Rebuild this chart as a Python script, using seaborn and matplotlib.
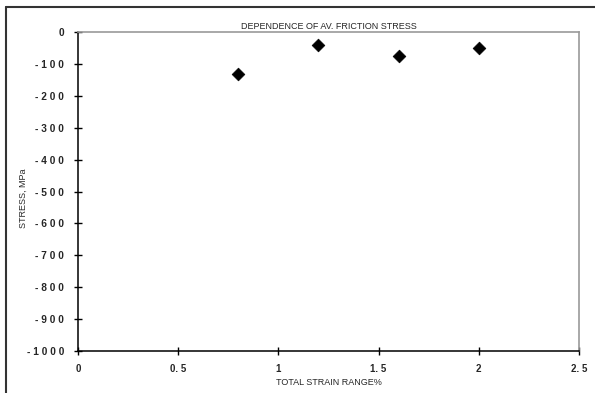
import matplotlib
matplotlib.use("Agg")
import matplotlib.pyplot as plt
import seaborn as sns
import pandas as pd
from matplotlib.lines import Line2D

strain_range = [0.8, 1.2, 1.6, 2.0]
stress = [-133, -40, -75, -49]
xticks = [0, 0.5, 1, 1.5, 2, 2.5]
xtick_labels = ["0", "0. 5", "1", "1. 5", "2", "2. 5"]
yticks = [0, -100, -200, -300, -400, -500, -600, -700, -800, -900, -1000]
ytick_labels = ["0", "- 1 0 0", "- 2 0 0", "- 3 0 0", "- 4 0 0", "- 5 0 0",
                "- 6 0 0", "- 7 0 0", "- 8 0 0", "- 9 0 0", "- 1 0 0 0"]

sns.set_theme(style="white")
plt.rcParams['font.family'] = ['Liberation Sans', 'DejaVu Sans']

df = pd.DataFrame({"x": strain_range, "y": stress})

fig = plt.figure(figsize=(5.95, 3.93), dpi=100)
ax = fig.add_axes([78/595, 1 - 351/393, (579-78)/595, (351-32)/393])
sns.scatterplot(data=df, x="x", y="y", ax=ax, marker="D", s=42,
                color="black", edgecolor="black", linewidth=0.5)

ax.set_xlim(0, 2.5)
ax.set_ylim(-1000, 0)
ax.set_xticks(xticks)
ax.set_xticklabels(xtick_labels, fontsize=7, fontweight="bold")
ax.set_yticks(yticks)
ax.set_yticklabels(ytick_labels, fontsize=7.3, fontweight="bold")
ax.tick_params(axis="both", which="major", bottom=True, left=True, top=False, right=False,
               direction="inout", length=6, width=1, color="black", pad=7)
ax.tick_params(axis="x", pad=6)

for s in ["left", "bottom"]:
    ax.spines[s].set_color("black")
    ax.spines[s].set_linewidth(1.1)
for s in ["top", "right"]:
    ax.spines[s].set_color("#999999")
    ax.spines[s].set_linewidth(1.2)

ax.set_xlabel("TOTAL STRAIN RANGE%", fontsize=6.5, labelpad=3)
ax.set_ylabel("STRESS, MPa", fontsize=6.5, labelpad=0)
ax.yaxis.set_label_coords(-0.10, 0.48)
ax.set_title("DEPENDENCE OF AV. FRICTION STRESS", fontsize=6.5, pad=2)

# outer frame (top and left border)
fig.add_artist(Line2D([6/595, 1.0], [1 - 7/393, 1 - 7/393], color="#333333", lw=1.5,
                      transform=fig.transFigure))
fig.add_artist(Line2D([6/595, 6/595], [0, 1 - 7/393], color="#333333", lw=1.5,
                      transform=fig.transFigure))

fig.savefig("out.png", dpi=100)
